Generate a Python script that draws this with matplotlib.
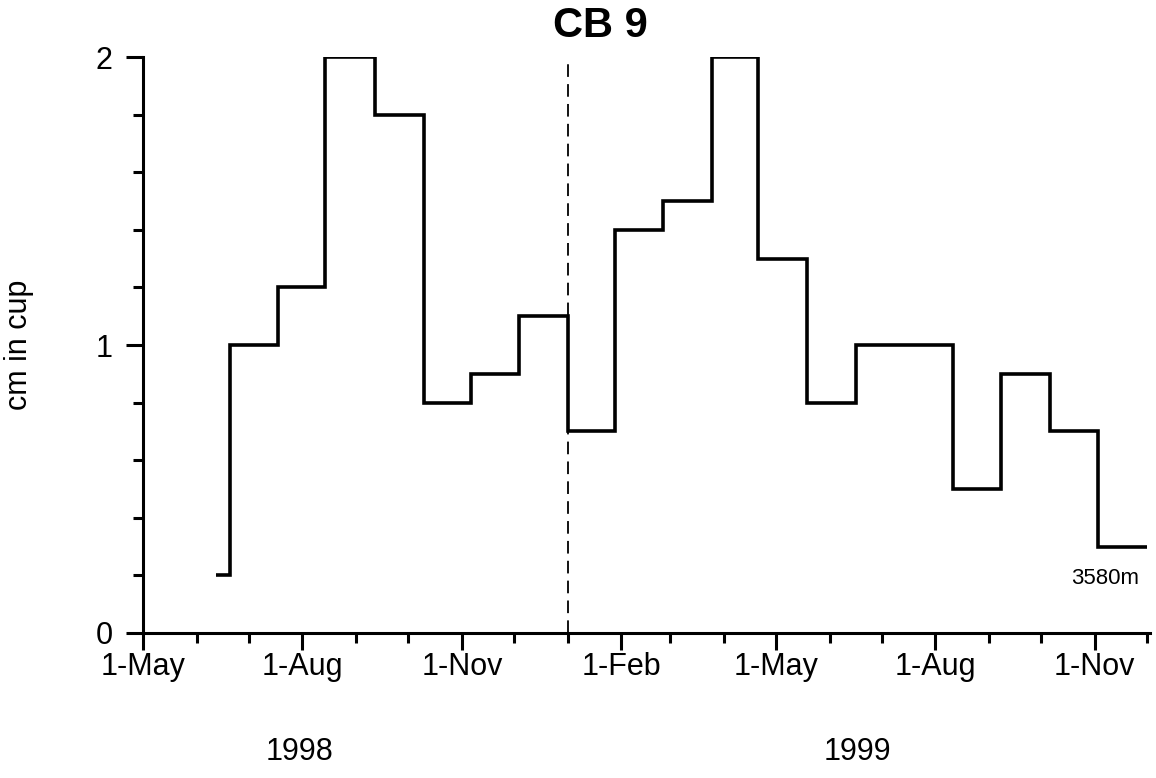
import numpy as np
import pandas as pd
import matplotlib
matplotlib.use("Agg")
import matplotlib.pyplot as plt
import matplotlib.dates as mdates

plt.rcParams["font.family"] = ["Liberation Sans", "DejaVu Sans"]

# cup opening dates (edges) and collected cm per cup
edges = pd.to_datetime([
    "1998-06-12", "1998-06-20", "1998-07-18", "1998-08-14", "1998-09-12",
    "1998-10-10", "1998-11-06", "1998-12-04", "1999-01-01", "1999-01-28",
    "1999-02-25", "1999-03-25", "1999-04-21", "1999-05-19", "1999-06-16",
    "1999-07-14", "1999-08-11", "1999-09-08", "1999-10-06", "1999-11-03",
    "1999-12-01",
])
cm_in_cup = [0.2, 1.0, 1.2, 2.0, 1.8, 0.8, 0.9, 1.1, 0.7, 1.4,
             1.5, 2.0, 1.3, 0.8, 1.0, 1.0, 0.5, 0.9, 0.7, 0.3]
year_break = pd.Timestamp("1999-01-01")
tick_dates = pd.to_datetime(["1998-05-01", "1998-08-01", "1998-11-01", "1999-02-01",
                             "1999-05-01", "1999-08-01", "1999-11-01"])
tick_labels = ["1-May", "1-Aug", "1-Nov", "1-Feb", "1-May", "1-Aug", "1-Nov"]

fig = plt.figure(figsize=(11.56, 7.78), dpi=100)
ax = fig.add_axes([0.1237, 0.1864, 0.8713, 0.7403])

ax.stairs(cm_in_cup, mdates.date2num(edges), color="black", lw=2.6, baseline=None)
ax.vlines(mdates.date2num(year_break), 0, 1.98, color="black", lw=1.3,
          ls=(0, (7, 4)))

ax.set_xlim(mdates.date2num(pd.Timestamp("1998-05-01")),
            mdates.date2num(pd.Timestamp("1999-12-03")))
ax.set_ylim(0, 2)

ax.set_xticks(mdates.date2num(tick_dates))
ax.set_xticklabels(tick_labels)
ax.xaxis.set_minor_locator(mdates.MonthLocator())
ax.set_yticks([0, 1, 2])
ax.set_yticks(np.arange(0.2, 2.0, 0.2), minor=True)

for s in ["top", "right"]:
    ax.spines[s].set_visible(False)
for s in ["left", "bottom"]:
    ax.spines[s].set_linewidth(2.2)
ax.tick_params(which="major", length=12, width=2.2, labelsize=22)
ax.tick_params(which="minor", length=7, width=2.2)
ax.tick_params(axis="x", pad=2)
ax.tick_params(axis="y", pad=10)

ax.set_ylabel("cm in cup", fontsize=22, labelpad=44)
fig.text(600 / 1156, 1 - 26 / 778, "CB 9", fontsize=30, fontweight="bold",
         ha="center", va="center")
ax.text(mdates.date2num(pd.Timestamp("1999-11-07")), 0.19, "3580m", fontsize=16,
        ha="center", va="center")
fig.text(300 / 1156, 1 - 752 / 778, "1998", fontsize=22, ha="center", va="center")
fig.text(857 / 1156, 1 - 752 / 778, "1999", fontsize=22, ha="center", va="center")

fig.savefig("out.png", dpi=100)
